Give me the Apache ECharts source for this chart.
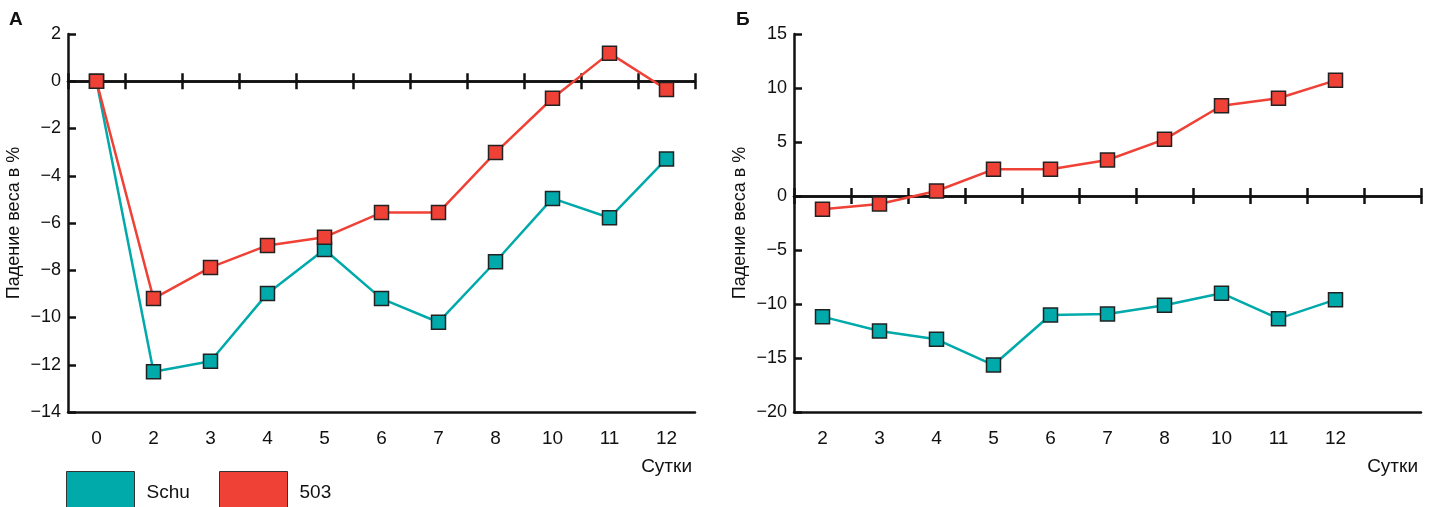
<!DOCTYPE html>
<html>
<head>
<meta charset="utf-8">
<script src="https://cdn.jsdelivr.net/npm/echarts@6/dist/echarts.min.js"></script>
<style>
  html, body { margin: 0; padding: 0; background: #fff; }
  #main { width: 1440px; height: 507px; }
</style>
</head>
<body>
<div id="main"></div>
<script>
// панель А
const daysA = ['0', '2', '3', '4', '5', '6', '7', '8', '10', '11', '12'];
const schuA = [0, -12.3, -11.85, -8.98, -7.12, -9.2, -10.2, -7.64, -4.96, -5.78, -3.29];
const r503A = [0, -9.2, -7.88, -6.95, -6.6, -5.56, -5.56, -3.02, -0.72, 1.19, -0.35];

// панель Б (последняя категория пустая)
const daysB = ['2', '3', '4', '5', '6', '7', '8', '10', '11', '12', ''];
const schuB = [-11.17, -12.5, -13.27, -15.65, -11.02, -10.93, -10.12, -9.0, -11.36, -9.6];
const r503B = [-1.23, -0.74, 0.46, 2.47, 2.47, 3.33, 5.25, 8.36, 9.05, 10.71];

const TEAL = '#00a9aa';
const RED = '#ef4136';
const INK = '#111';
const font = "'Liberation Sans', Arial, sans-serif";

let myChart = echarts.init(document.getElementById('main'));

function bottomAxis(grid, cats) {
  return {
    gridIndex: grid,
    type: 'category',
    data: cats,
    position: 'bottom',
    boundaryGap: true,
    axisLine: { onZero: false, lineStyle: { color: INK, width: 2.5 } },
    axisTick: { show: false },
    axisLabel: { margin: 17, color: INK, fontSize: 19, fontFamily: font, interval: 0 },
    name: 'Сутки',
    nameLocation: 'end',
    nameGap: -3,
    nameTextStyle: { color: INK, fontSize: 19, fontFamily: font, align: 'right', verticalAlign: 'top', padding: [45, 0, 0, 0] },
    splitLine: { show: false }
  };
}

// ось на нуле: засечки вниз и вверх
function zeroAxis(grid, yIdx, cats, inside) {
  return {
    gridIndex: grid,
    type: 'category',
    data: cats,
    position: 'bottom',
    boundaryGap: true,
    axisLine: { onZero: true, onZeroAxisIndex: yIdx, lineStyle: { color: INK, width: 2.5 } },
    axisTick: { show: true, inside: inside, length: 8, interval: 0, lineStyle: { color: INK, width: 2.5 } },
    axisLabel: { show: false },
    splitLine: { show: false }
  };
}

function valueAxis(grid, min, max, step) {
  return {
    gridIndex: grid,
    type: 'value',
    min: min,
    max: max,
    interval: step,
    axisLine: { show: true, onZero: false, lineStyle: { color: INK, width: 2.5 } },
    axisTick: { show: true, inside: true, length: 8, lineStyle: { color: INK, width: 2.5 } },
    axisLabel: { margin: 7, color: INK, fontSize: 18, fontFamily: font,
      formatter: function (v) { return String(v).replace('-', '\u2212'); } },
    splitLine: { show: false },
    name: 'Падение веса в %',
    nameLocation: 'middle',
    nameGap: 45,
    nameTextStyle: { color: INK, fontSize: 18, fontFamily: font }
  };
}

function line(name, xi, yi, data, color) {
  return {
    name: name,
    type: 'line',
    xAxisIndex: xi,
    yAxisIndex: yi,
    data: data,
    symbol: 'rect',
    symbolSize: 14,
    lineStyle: { color: color, width: 2.5 },
    itemStyle: { color: color, borderColor: '#222', borderWidth: 1.5 },
    emphasis: { disabled: true },
    animation: false
  };
}

var option = {
  animation: false,
  title: [
    { text: 'А', left: 9, top: 10, padding: 0, textStyle: { fontSize: 19, fontWeight: 'bold', color: INK, fontFamily: font } },
    { text: 'Б', left: 736, top: 10, padding: 0, textStyle: { fontSize: 19, fontWeight: 'bold', color: INK, fontFamily: font } }
  ],
  legend: [
    {
      data: ['Schu'], left: 66, top: 471, padding: 0,
      itemWidth: 68, itemHeight: 42, icon: 'rect',
      itemStyle: { borderColor: '#333', borderWidth: 1 },
      textStyle: { fontSize: 19, fontFamily: font, color: INK, padding: [3, 0, 0, 7] }
    },
    {
      data: ['503'], left: 219, top: 471, padding: 0,
      itemWidth: 68, itemHeight: 42, icon: 'rect',
      itemStyle: { borderColor: '#333', borderWidth: 1 },
      textStyle: { fontSize: 19, fontFamily: font, color: INK, padding: [3, 0, 0, 7] }
    }
  ],
  grid: [
    { left: 68, right: 745, top: 34, bottom: 95 },
    { left: 794, right: 19, top: 34, bottom: 95 }
  ],
  xAxis: [
    bottomAxis(0, daysA),
    zeroAxis(0, 0, daysA, false),
    zeroAxis(0, 0, daysA, true),
    bottomAxis(1, daysB),
    zeroAxis(1, 1, daysB, false),
    zeroAxis(1, 1, daysB, true)
  ],
  yAxis: [
    valueAxis(0, -14, 2, 2),
    valueAxis(1, -20, 15, 5)
  ],
  series: [
    line('Schu', 0, 0, schuA, TEAL),
    line('503', 0, 0, r503A, RED),
    line('Schu', 3, 1, schuB, TEAL),
    line('503', 3, 1, r503B, RED)
  ]
};

myChart.setOption(option);
window.addEventListener('resize', function () {
  myChart.resize();
});
</script>
</body>
</html>
